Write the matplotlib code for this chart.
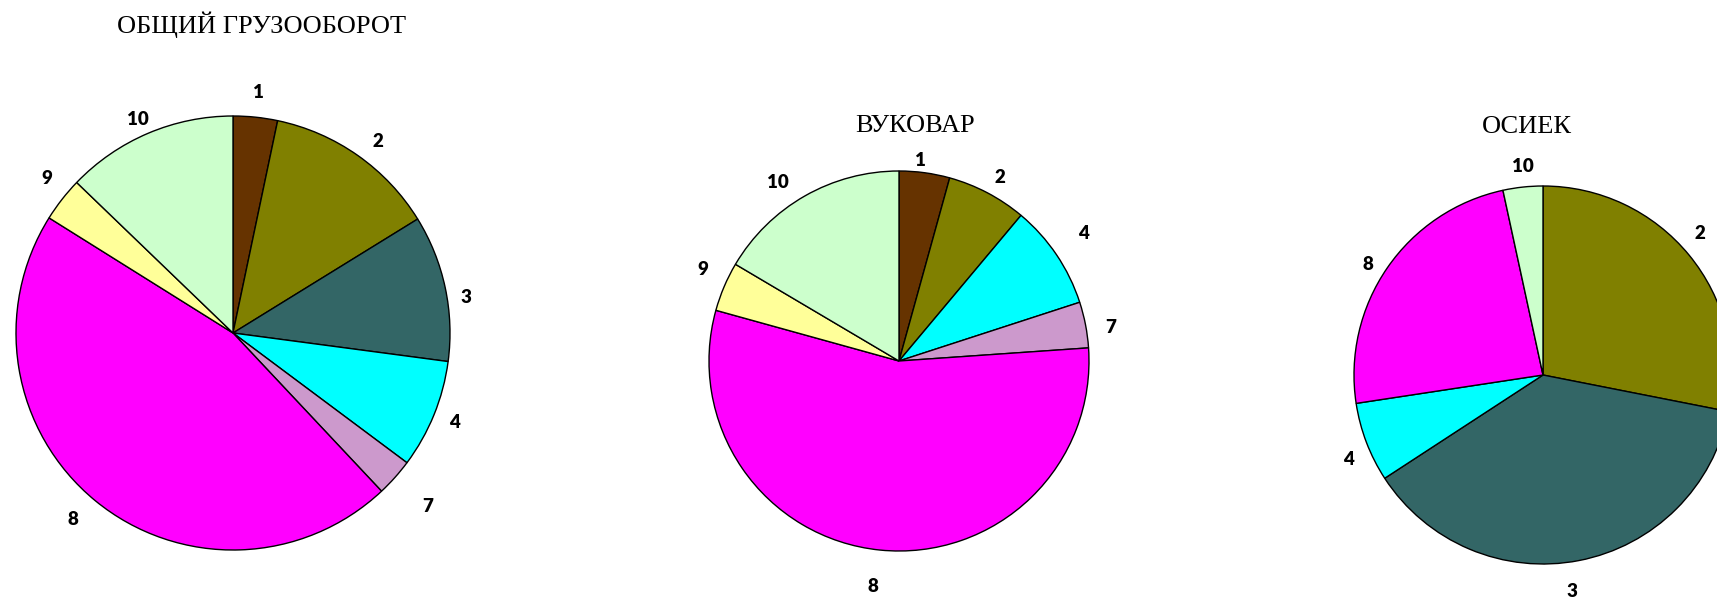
import matplotlib
matplotlib.use("Agg")
import matplotlib.pyplot as plt

# Cargo categories and their shares (%) in each pie
categories_total = ["1", "2", "3", "4", "7", "8", "9", "10"]
share_total = [3.3, 12.9, 10.9, 8.1, 2.8, 45.9, 3.3, 12.8]

categories_vukovar = ["1", "2", "4", "7", "8", "9", "10"]
share_vukovar = [4.3, 6.8, 8.9, 3.9, 55.4, 4.2, 16.5]

categories_osijek = ["2", "3", "4", "8", "10"]
share_osijek = [28.1, 37.7, 6.8, 24.0, 3.4]

titles = ["ОБЩИЙ ГРУЗООБОРОТ", "ВУКОВАР", "ОСИЕК"]

category_colors = {
    "1": "#663300",
    "2": "#808000",
    "3": "#336666",
    "4": "#00FFFF",
    "7": "#CC99CC",
    "8": "#FF00FF",
    "9": "#FFFF99",
    "10": "#CCFFCC",
}

W, H = 1717, 605
fig = plt.figure(figsize=(W / 100, H / 100), dpi=100)
fig.patch.set_facecolor("white")
ax = fig.add_axes([0, 0, 1, 1])

# layout: (centre x, centre y from top, radius, label distance, title position)
layout = [
    (233, 333, 217, 1.12, (262, 25)),
    (899, 361, 190, 1.14, (915, 126)),
    (1543, 375, 189, 1.12, (1527, 127)),
]

# small pixel shifts of individual labels (x right, y down)
label_shift = [
    {"1": (0, 1), "2": (5, 7), "3": (-5, 15), "4": (-4, -2), "7": (13, 12),
     "8": (-6, -1), "9": (5, -5), "10": (0, 10)},
    {"1": (-8, 14), "2": (0, 8), "4": (5, -6), "7": (-1, 8), "8": (-4, 10),
     "9": (3, -7), "10": (-14, 10)},
    {"2": (-7, -7), "3": (-11, 9), "4": (3, 9), "8": (-1, 10), "10": (2, 2)},
]

series = [
    (categories_total, share_total),
    (categories_vukovar, share_vukovar),
    (categories_osijek, share_osijek),
]

label_font = dict(family="Lato", weight="heavy", size=13.5, color="black")

for (cats, vals), (cx, cy, r, ld, tpos), shifts, title in zip(
        series, layout, label_shift, titles):
    wedges, texts = ax.pie(
        vals,
        labels=cats,
        colors=[category_colors[c] for c in cats],
        startangle=90,
        counterclock=False,
        radius=r,
        center=(cx, H - cy),
        labeldistance=ld,
        wedgeprops=dict(edgecolor="black", linewidth=1.0),
        textprops=label_font,
    )
    for t, c in zip(texts, cats):
        x, y = t.get_position()
        dx, dy = shifts.get(c, (0, 0))
        t.set_position((x + dx, y - dy))
        t.set_ha("center")
        t.set_va("center")
    ax.text(tpos[0], H - tpos[1], title, ha="center", va="center",
            family="Liberation Serif", size=19, color="black")

ax.set_aspect("auto")
ax.set_xlim(0, W)
ax.set_ylim(0, H)
ax.axis("off")

fig.savefig("out.png", dpi=100, facecolor="white")
